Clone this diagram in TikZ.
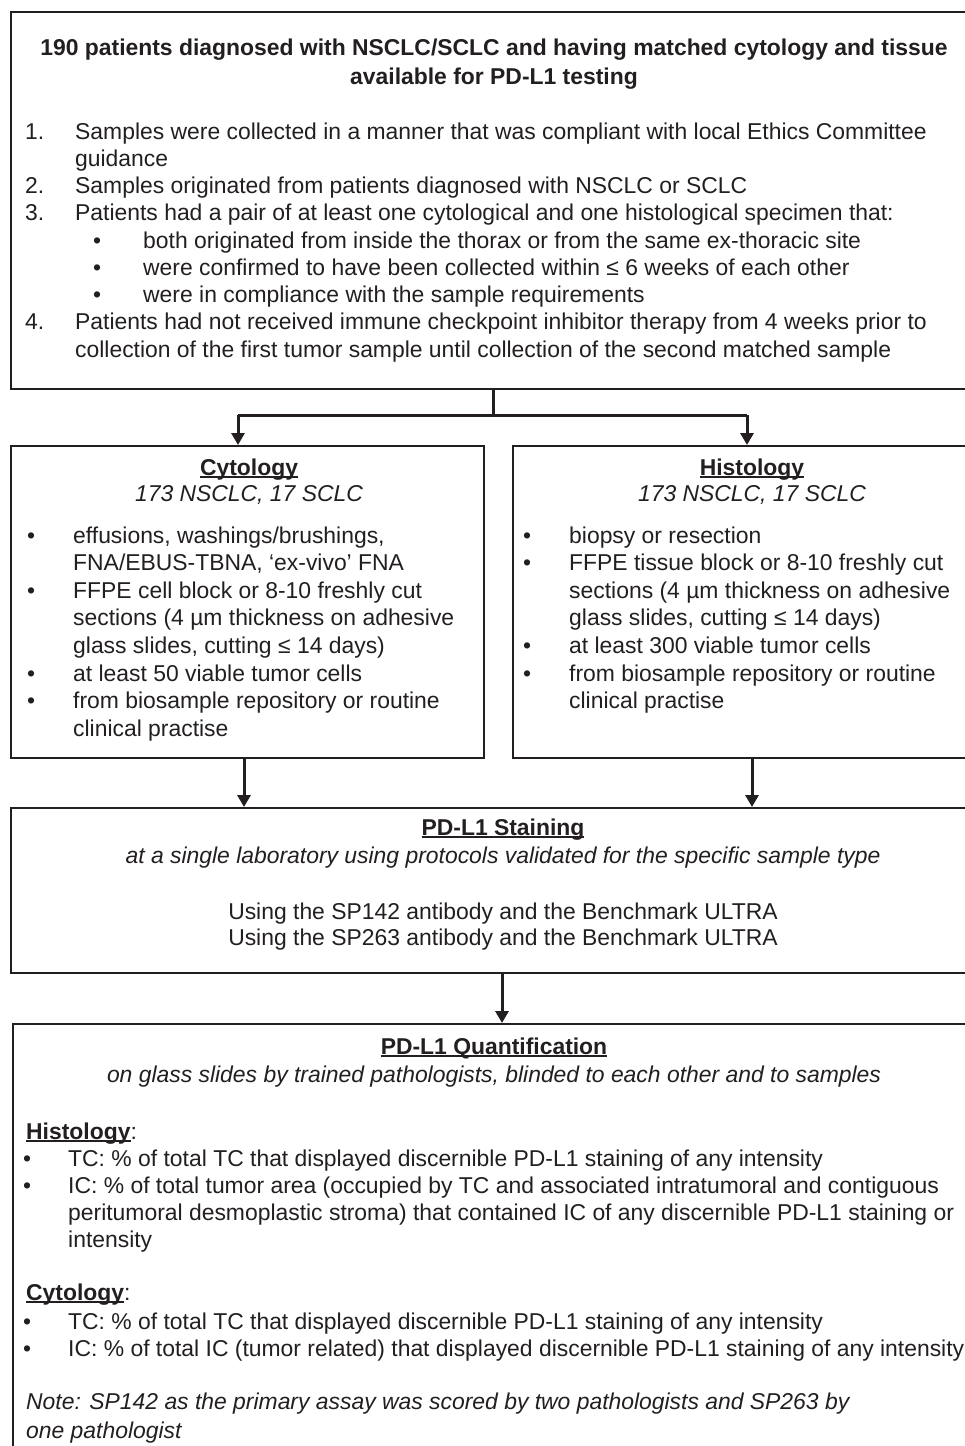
\documentclass[tikz,border=0pt]{standalone}
\usepackage{fontspec}
\setmainfont{Liberation Sans}
\usetikzlibrary{arrows.meta}
\definecolor{ink}{HTML}{231F20}
\newcommand{\fsz}{\fontsize{22.9}{27}\selectfont}
\newcommand{\myul}[1]{\setbox0\hbox{#1}\rlap{\rule[-3pt]{\wd0}{1.8pt}}\box0}
\begin{document}
\begin{tikzpicture}[x=1pt,y=-1pt,
  box/.style={draw=ink,line width=2pt,fill=none,rectangle,inner sep=0pt,anchor=north west},
  conn/.style={draw=ink,line width=3pt},
  arr/.style={conn,-{Triangle[width=13pt,length=12pt]}},
  txt/.style={text=ink,inner sep=0pt,anchor=base west,font=\fsz},
  ctxt/.style={txt,anchor=base},
  bul/.style={txt},
  bf/.style={font=\fsz\bfseries},
  it/.style={font=\fsz\itshape}
]
\useasboundingbox (0,0) rectangle (965,1446);
\clip (0,0) rectangle (965,1446);
\fill[white] (0,0) rectangle (965,1446);

% boxes
\node[box,minimum width=970pt,minimum height=377pt] (top) at (10,11) {};
\node[box,minimum width=473pt,minimum height=312pt] (cyto) at (10,445) {};
\node[box,minimum width=468pt,minimum height=312pt] (histo) at (512,445) {};
\node[box,minimum width=970pt,minimum height=165pt] (stain) at (10,807) {};
\node[box,minimum width=968pt,minimum height=440pt] (quant) at (12,1023) {};

% top box text
\node[ctxt,bf] (t1) at (494,55) {190 patients diagnosed with NSCLC/SCLC and having matched cytology and tissue};
\node[ctxt,bf] (t2) at (494,84) {available for PD-L1 testing};
\node[txt] (n1) at (25,139) {1.};
\node[txt] (l1) at (75,139) {Samples were collected in a manner that was compliant with local Ethics Committee};
\node[txt] (l1b) at (75,166.25) {guidance};
\node[txt] (n2) at (25,193.5) {2.};
\node[txt] (l2) at (75,193.5) {Samples originated from patients diagnosed with NSCLC or SCLC};
\node[txt] (n3) at (25,220.75) {3.};
\node[txt] (l3) at (75,220.75) {Patients had a pair of at least one cytological and one histological specimen that:};
\node[txt] (b1) at (93,248) {•};
\node[txt] (s1) at (143,248) {both originated from inside the thorax or from the same ex-thoracic site};
\node[txt] (b2) at (93,275.25) {•};
\node[txt] (s2) at (143,275.25) {were confirmed to have been collected within ≤ 6 weeks of each other};
\node[txt] (b3) at (93,302.5) {•};
\node[txt] (s3) at (143,302.5) {were in compliance with the sample requirements};
\node[txt] (n4) at (25,329.75) {4.};
\node[txt] (l4) at (75,329.75) {Patients had not received immune checkpoint inhibitor therapy from 4 weeks prior to};
\node[txt] (l4b) at (75,357) {collection of the first tumor sample until collection of the second matched sample};

% cytology box text
\node[ctxt,bf] (ch) at (249,475) {\myul{Cytology}};
\node[ctxt,it] (cs) at (249,501) {173 NSCLC, 17 SCLC};
\node[bul] (cb1) at (27,543) {•};
\node[txt] (c1) at (73,543) {effusions, washings/brushings,};
\node[txt] (c1b) at (73,570.6) {FNA/EBUS-TBNA, ‘ex-vivo’ FNA};
\node[bul] (cb2) at (27,598.2) {•};
\node[txt] (c2) at (73,598.2) {FFPE cell block or 8-10 freshly cut};
\node[txt] (c2b) at (73,625.8) {sections (4 µm thickness on adhesive};
\node[txt] (c2c) at (73,653.4) {glass slides, cutting ≤ 14 days)};
\node[bul] (cb3) at (27,681) {•};
\node[txt] (c3) at (73,681) {at least 50 viable tumor cells};
\node[bul] (cb4) at (27,708.6) {•};
\node[txt] (c4) at (73,708.6) {from biosample repository or routine};
\node[txt] (c4b) at (73,736.2) {clinical practise};

% histology box text
\node[ctxt,bf] (hh) at (752,475) {\myul{Histology}};
\node[ctxt,it] (hs) at (752,501) {173 NSCLC, 17 SCLC};
\node[bul] (hb1) at (523,543) {•};
\node[txt] (h1) at (569,543) {biopsy or resection};
\node[bul] (hb2) at (523,570.6) {•};
\node[txt] (h2) at (569,570.6) {FFPE tissue block or 8-10 freshly cut};
\node[txt] (h2b) at (569,598.2) {sections (4 µm thickness on adhesive};
\node[txt] (h2c) at (569,625.8) {glass slides, cutting ≤ 14 days)};
\node[bul] (hb3) at (523,653.4) {•};
\node[txt] (h3) at (569,653.4) {at least 300 viable tumor cells};
\node[bul] (hb4) at (523,681) {•};
\node[txt] (h4) at (569,681) {from biosample repository or routine};
\node[txt] (h4b) at (569,708.6) {clinical practise};

% staining box text
\node[ctxt,bf] (sh) at (503,835) {\myul{PD-L1 Staining}};
\node[ctxt,it] (ss) at (503,863) {at a single laboratory using protocols validated for the specific sample type};
\node[ctxt] (s142) at (503,919) {Using the SP142 antibody and the Benchmark ULTRA};
\node[ctxt] (s263) at (503,945) {Using the SP263 antibody and the Benchmark ULTRA};

% quantification box text
\node[ctxt,bf] (qh) at (494,1054) {\myul{PD-L1 Quantification}};
\node[ctxt,it] (qs) at (494,1082) {on glass slides by trained pathologists, blinded to each other and to samples};
\node[txt] (qhist) at (26,1139) {\myul{\textbf{Histology}}:};
\node[bul] (qb1) at (23,1166) {•};
\node[txt] (q1) at (68,1166) {TC: \% of total TC that displayed discernible PD-L1 staining of any intensity};
\node[bul] (qb2) at (23,1193.3) {•};
\node[txt] (q2) at (68,1193.3) {IC: \% of total tumor area (occupied by TC and associated intratumoral and contiguous};
\node[txt] (q2b) at (68,1220.6) {peritumoral desmoplastic stroma) that contained IC of any discernible PD-L1 staining or};
\node[txt] (q2c) at (68,1247.9) {intensity};
\node[txt] (qcyt) at (26,1300) {\myul{\textbf{Cytology}}:};
\node[bul] (qb3) at (23,1329) {•};
\node[txt] (q3) at (68,1329) {TC: \% of total TC that displayed discernible PD-L1 staining of any intensity};
\node[bul] (qb4) at (23,1356) {•};
\node[txt] (q4) at (68,1356) {IC: \% of total IC (tumor related) that displayed discernible PD-L1 staining of any intensity};
\node[txt,it] (note1) at (26,1409) {Note: SP142 as the primary assay was scored by two pathologists and SP263 by};
\node[txt,it] (note2) at (26,1438) {one pathologist};

% connectors
\coordinate (j) at (493,415);
\coordinate (ja) at (238,415);
\coordinate (jb) at (747,415);
\draw[conn] (top.south -| j) -- (j);
\draw[conn] (ja) -- (jb);
\draw[arr] (ja) -- (ja |- cyto.north);
\draw[arr] (jb) -- (jb |- histo.north);
\coordinate (ca) at (244,757);
\coordinate (hb) at (752,757);
\draw[arr] (ca |- cyto.south) -- (ca |- stain.north);
\draw[arr] (hb |- histo.south) -- (hb |- stain.north);
\coordinate (sq) at (502,972);
\draw[arr] (sq |- stain.south) -- (sq |- quant.north);
\end{tikzpicture}
\end{document}
